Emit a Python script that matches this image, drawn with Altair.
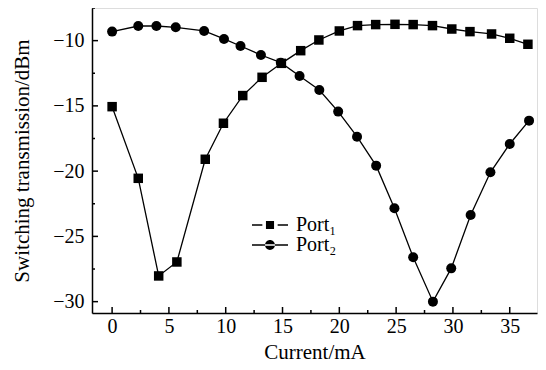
import altair as alt
import pandas as pd

# Data
p1_x = [0, 2.3, 4.1, 5.7, 8.2, 9.8, 11.5, 13.2, 14.9, 16.6, 18.2, 20.0, 21.6, 23.2, 24.9, 26.5, 28.2, 29.9, 31.5, 33.4, 35.0, 36.6]
p1_y = [-15.06, -20.55, -28.03, -26.96, -19.09, -16.33, -14.21, -12.81, -11.74, -10.77, -9.95, -9.26, -8.85, -8.77, -8.75, -8.77, -8.85, -9.11, -9.31, -9.49, -9.82, -10.28]
p2_x = [0, 2.3, 3.9, 5.6, 8.1, 9.85, 11.3, 13.1, 14.85, 16.5, 18.24, 19.9, 21.56, 23.24, 24.85, 26.5, 28.24, 29.85, 31.56, 33.3, 35.0, 36.7]
p2_y = [-9.31, -8.88, -8.88, -8.98, -9.26, -9.87, -10.41, -11.10, -11.69, -12.71, -13.78, -15.44, -17.36, -19.58, -22.85, -26.6, -30.0, -27.45, -23.36, -20.09, -17.92, -16.13]
series_names = ["Port\u2081", "Port\u2082"]

x_major = [0, 5, 10, 15, 20, 25, 30, 35]
x_minor = [2.5, 7.5, 12.5, 17.5, 22.5, 27.5, 32.5]
y_major = [-10, -15, -20, -25, -30]
y_minor = [-7.5, -12.5, -17.5, -22.5, -27.5]

df1 = pd.DataFrame({"current": p1_x, "value": p1_y, "series": series_names[0]})
df2 = pd.DataFrame({"current": p2_x, "value": p2_y, "series": series_names[1]})

W, H = 445, 305
FONT = "Liberation Serif"

xscale = alt.Scale(domain=[-1.77, 37.4], nice=False, zero=False)
yscale = alt.Scale(domain=[-30.87, -7.5], nice=False, zero=False)

xaxis = alt.Axis(values=x_major, ticks=False, grid=False, title="Current/mA",
                 labelFont=FONT, labelFontSize=20, titleFont=FONT, titleFontSize=21,
                 titleFontWeight="normal", labelPadding=3, titlePadding=5,
                 domainColor="black", domainWidth=1.5, labelColor="black", titleColor="black")
yaxis = alt.Axis(values=y_major, ticks=False, grid=False, title="Switching transmission/dBm",
                 labelFont=FONT, labelFontSize=20, titleFont=FONT, titleFontSize=21,
                 titleFontWeight="normal", labelPadding=8, titlePadding=20,
                 domainColor="black", domainWidth=1.5, labelColor="black", titleColor="black")

# legend glyphs (line + marker) as filled paths, unit = 9 px
sq_path = ("M-2,-0.075H-0.85V0.075H-2Z M0.85,-0.075H2V0.075H0.85Z "
           "M-0.45,-0.45H0.45V0.45H-0.45Z")
ci_path = ("M-2,-0.075H2V0.075H-2Z "
           "M-0.55,0A0.55,0.55 0 1,0 0.55,0A0.55,0.55 0 1,0 -0.55,0Z")


def legend_layer(d, name, path, ly):
    return alt.Chart(d).transform_filter("false").mark_point(
        filled=True, color="black"
    ).encode(
        x=alt.X("current:Q", scale=xscale),
        y=alt.Y("value:Q", scale=yscale),
        opacity=alt.Opacity("series:N", scale=alt.Scale(domain=[name], range=[1, 1]),
                            legend=alt.Legend(
                                title=None, orient="none", legendX=168, legendY=ly,
                                labelFont=FONT, labelFontSize=20, labelColor="black",
                                symbolType=path, symbolSize=324, symbolFillColor="black",
                                labelOffset=16, padding=0)),
    )


def series_layers(d, markfn, size):
    line = alt.Chart(d).mark_line(color="black", strokeWidth=1.3).encode(
        x=alt.X("current:Q", scale=xscale, axis=xaxis),
        y=alt.Y("value:Q", scale=yscale, axis=yaxis),
    )
    pts = markfn(alt.Chart(d))(color="black", size=size, opacity=1).encode(
        x=alt.X("current:Q", scale=xscale),
        y=alt.Y("value:Q", scale=yscale),
    )
    return line, pts


l1, s1 = series_layers(df1, lambda c: c.mark_square, 90)
l2, s2 = series_layers(df2, lambda c: c.mark_circle, 100)
g1 = legend_layer(df1, series_names[0], sq_path, 207)
g2 = legend_layer(df2, series_names[1], ci_path, 227)

xmaj = alt.Chart(pd.DataFrame({"v": x_major})).mark_rule(color="black", strokeWidth=1.5).encode(
    x=alt.X("v:Q", scale=xscale), y=alt.value(H), y2=alt.value(H - 6))
xmin = alt.Chart(pd.DataFrame({"v": x_minor})).mark_rule(color="black", strokeWidth=1.5).encode(
    x=alt.X("v:Q", scale=xscale), y=alt.value(H), y2=alt.value(H - 3))
ymaj = alt.Chart(pd.DataFrame({"v": y_major})).mark_rule(color="black", strokeWidth=1.5).encode(
    y=alt.Y("v:Q", scale=yscale), x=alt.value(0), x2=alt.value(6))
ymin = alt.Chart(pd.DataFrame({"v": y_minor})).mark_rule(color="black", strokeWidth=1.5).encode(
    y=alt.Y("v:Q", scale=yscale), x=alt.value(0), x2=alt.value(3))

chart = alt.layer(l1, l2, s1, s2, g1, g2, xmaj, xmin, ymaj, ymin).resolve_scale(
    opacity="independent"
).resolve_legend(opacity="independent").properties(
    width=W, height=H,
    autosize=alt.AutoSizeParams(type="none"),
    padding={"left": 84, "top": 0, "right": 1, "bottom": 53},
).configure_view(stroke=None).configure(background="white")

chart.save("out.html", embed_options={"renderer": "svg", "actions": False})
